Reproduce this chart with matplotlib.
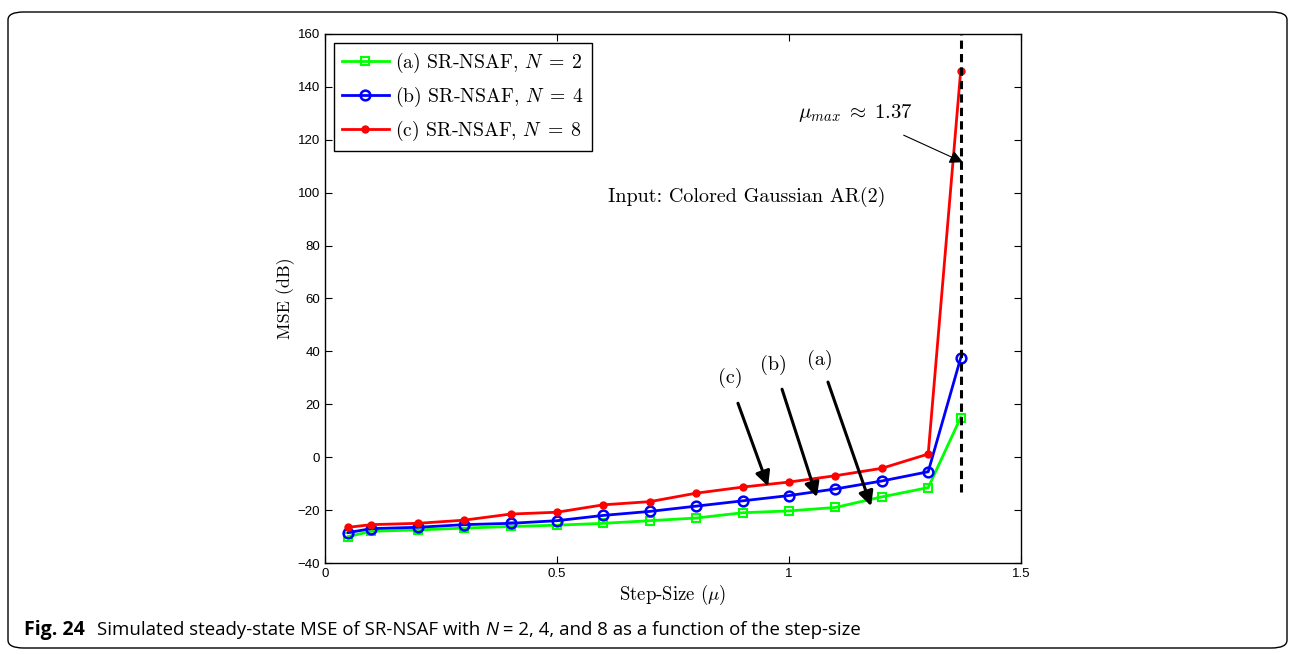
import matplotlib
matplotlib.use("Agg")
import matplotlib.pyplot as plt
from matplotlib.patches import FancyBboxPatch

mu = [0.05, 0.1, 0.2, 0.3, 0.4, 0.5, 0.6, 0.7, 0.8, 0.9, 1.0, 1.1, 1.2, 1.3, 1.37]
mse_n2 = [-30.0, -28.0, -27.5, -26.8, -26.2, -25.7, -25.0, -24.0, -23.0, -21.0, -20.3, -19.0, -15.0, -11.5, 15.0]
mse_n4 = [-28.5, -27.0, -26.5, -25.5, -25.0, -24.0, -22.0, -20.5, -18.5, -16.5, -14.5, -12.0, -9.0, -5.5, 37.5]
mse_n8 = [-26.5, -25.5, -25.0, -23.8, -21.5, -20.8, -18.0, -16.8, -13.6, -11.3, -9.4, -7.0, -4.2, 1.2, 146.0]
labels = [r"(a) SR-NSAF, $N\;=\;2$", r"(b) SR-NSAF, $N\;=\;4$", r"(c) SR-NSAF, $N\;=\;8$"]
mu_max = 1.37
xticks = [0, 0.5, 1, 1.5]
xtick_labels = ["0", "0.5", "1", "1.5"]
yticks = list(range(-40, 161, 20))

plt.rcParams['mathtext.fontset'] = 'cm'
serif = 'cmr10'

fig = plt.figure(figsize=(12.95, 6.55), dpi=100)
border = FancyBboxPatch((8/1295, 7/655), 1279/1295, 636/655, boxstyle="round,pad=0,rounding_size=0.012",
                        transform=fig.transFigure, fill=False, edgecolor='black', linewidth=1.0)
fig.patches.append(border)

ax = fig.add_axes([325/1295, 1-563/655, 696/1295, 529/655])
ax.plot(mu, mse_n2, color='#00ff00', lw=2, marker='s', ms=6, mfc='none', mec='#00ff00', mew=1.5, label=labels[0])
ax.plot(mu, mse_n4, color='#0000ff', lw=2, marker='o', ms=7, mfc='none', mec='#0000ff', mew=1.8, label=labels[1])
ax.plot(mu, mse_n8, color='#ff0000', lw=2, marker='o', ms=5, mfc='#ff0000', mec='#ff0000', label=labels[2])
ax.plot([mu_max, mu_max], [-13, 160], color='black', ls='--', lw=2.2, dashes=(2.7, 1.7))

ax.set_xlim(0, 1.5)
ax.set_ylim(-40, 160)
ax.set_xticks(xticks)
ax.set_xticklabels(xtick_labels)
ax.set_yticks(yticks)
ax.set_yticklabels([str(v).replace('-', '\u2212') for v in yticks])
ax.tick_params(direction='in', top=True, right=True, length=5, width=0.8, labelsize=9.5)
for lab in ax.get_xticklabels() + ax.get_yticklabels():
    lab.set_fontfamily('Liberation Sans')
for s in ax.spines.values():
    s.set_linewidth(1.0)

ax.set_xlabel(r"Step-Size ($\mu$)", fontfamily=serif, fontsize=13.5, labelpad=2)
ax.set_ylabel("MSE (dB)", fontfamily=serif, fontsize=13, labelpad=2)

leg = ax.legend(loc='upper left', bbox_to_anchor=(0.0, 1.0), prop={'family': serif, 'size': 14.2},
                fancybox=False, edgecolor='black', framealpha=1, handlelength=2.4, borderpad=0.4,
                labelspacing=0.5, handletextpad=0.3, borderaxespad=0.45)
leg.get_frame().set_linewidth(1.0)

ax.text(0.91, 98.3, "Input: Colored Gaussian AR(2)", fontfamily=serif, fontsize=14.5, ha='center', va='center')
ax.annotate(r"$\mu_{max}\;\approx\;1.37$", xy=(1.375, 111.5), xytext=(1.144, 130.0), fontsize=15,
            ha='center', va='center',
            arrowprops=dict(arrowstyle='-|>', color='black', lw=0.8, mutation_scale=20, shrinkA=14, shrinkB=0))

arrow_specs = [("(c)", (0.873, 29.9), (0.89, 20.4), (0.955, -11.0)),
               ("(b)", (0.966, 34.8), (0.985, 25.7), (1.06, -15.1)),
               ("(a)", (1.067, 36.7), (1.084, 28.4), (1.177, -18.5))]
for txt, tpos, start, end in arrow_specs:
    ax.text(tpos[0], tpos[1], txt, fontfamily=serif, fontsize=14.5, ha='center', va='center')
    ax.annotate("", xy=end, xytext=start,
                arrowprops=dict(arrowstyle='-|>', color='black', lw=2.2, mutation_scale=22, shrinkA=0, shrinkB=0))

cap_y = 1 - 630/655
t1 = fig.text(24/1295, cap_y, "Fig. 24", fontfamily='Open Sans', fontweight='bold', fontsize=14,
              va='center', ha='left')
t2 = fig.text(97/1295, cap_y, "Simulated steady-state MSE of SR-NSAF with ", fontfamily='Open Sans',
              fontsize=13.4, va='center', ha='left')
t3 = ax.annotate("N", xy=(1, 0), xycoords=t2, va='bottom', ha='left', fontfamily='Open Sans',
                 fontstyle='italic', fontsize=13.4, annotation_clip=False)
t4 = ax.annotate(" = 2, 4, and 8 as a function of the step-size", xy=(1, 0), xycoords=t3, va='bottom',
                 ha='left', fontfamily='Open Sans', fontsize=13.4, annotation_clip=False)

fig.savefig("out.png", dpi=100)
